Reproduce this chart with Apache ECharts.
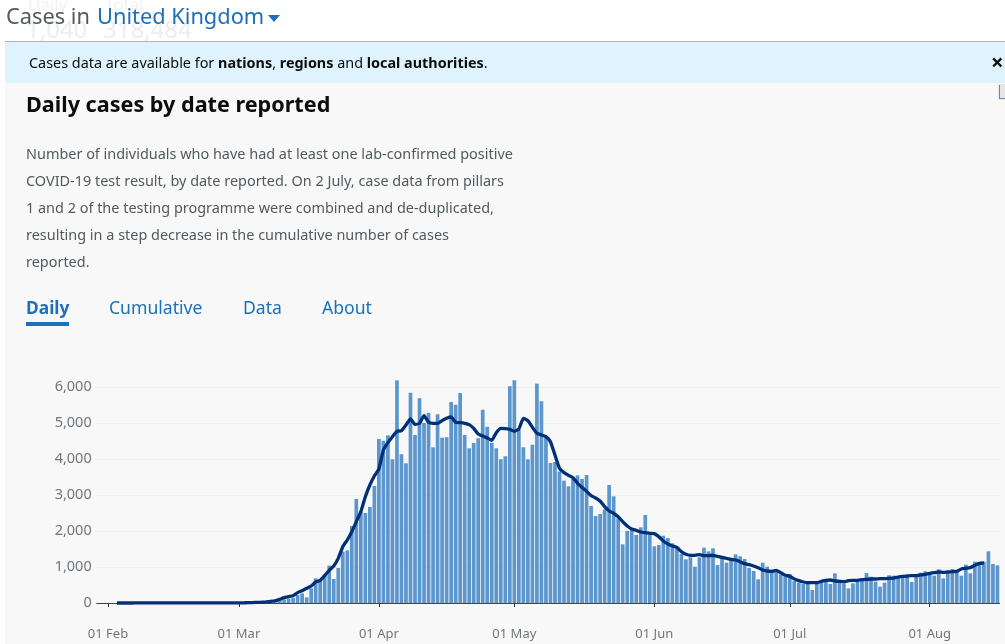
<!DOCTYPE html>
<html><head><meta charset="utf-8">
<style>html,body{margin:0;padding:0;background:#fff}#c{width:1005px;height:644px}</style>
<script src="https://cdn.jsdelivr.net/npm/echarts@6/dist/echarts.min.js"></script>
</head><body><div id="c"></div>
<script>
// Values. Index 0 = 01 Feb.
const leadingDays = ['30 Jan','31 Jan'];
const tickLabels = ['01 Feb','01 Mar','01 Apr','01 May','01 Jun','01 Jul','01 Aug'];
const monthNames = ['Feb','Mar','Apr','May','Jun','Jul','Aug'];
const monthLengths = [29,31,30,31,30,31,16];
const dailyCases = [
 0,0,0,0,1,0,1,0,1,0,1,0,0,0,0,0,0,0,0,0,0,0,0,0,1,2,3,4,3,
 12,5,11,30,30,45,48,60,50,83,100,120,139,222,268,157,407,685,640,760,1037,667,972,1427,1463,2139,2889,2546,2500,2667,3250,
 4556,4510,4658,3991,6185,4130,3880,5843,4667,5686,5000,5278,4324,5241,4593,4602,5584,5510,5834,4667,4297,4445,4574,5371,4899,4454,4297,3991,4074,6019,
 6185,4806,4324,3991,4398,6093,5602,4620,3889,3917,3650,3398,3241,3463,3546,3444,3555,2694,2417,2472,2602,3278,2963,2352,1630,2000,2028,1889,2102,2445,1889,
 1574,1611,1870,1806,1658,1546,1361,1213,1269,1009,1269,1537,1435,1519,1056,1250,1120,1213,1352,1296,1222,972,889,657,1120,1009,898,917,796,731,
 800,611,565,528,528,361,528,565,593,528,824,620,546,407,546,593,667,833,731,593,454,565,769,759,685,694,731,583,722,843,880,
 824,759,935,685,898,945,889,759,1065,824,1148,1056,1148,1435,1083,1046
];
const rollingAverage = [
 null,null,0,0,0,0,1,1,1,1,1,1,1,1,1,1,1,1,1,1,1,1,1,1,1,1,2,2,2,
 4,6,8,12,18,22,30,42,62,102,148,176,204,287,343,407,472,583,630,760,907,1028,1241,1565,1750,1982,2260,2537,2954,3278,3528,
 3722,4250,4454,4620,4769,4787,4945,5111,4963,4991,5204,5019,4991,4991,5065,5130,5167,5019,5010,4991,4954,4852,4695,4639,4584,4519,4732,4852,4843,4824,
 4769,4834,5130,5065,4880,4713,4667,4620,4482,4111,3741,3621,3546,3482,3324,3210,3100,2982,2917,2834,2676,2556,2491,2398,2259,2139,2056,2019,1972,1954,1935,
 1926,1843,1722,1639,1583,1546,1426,1352,1324,1324,1343,1315,1315,1324,1296,1269,1241,1213,1194,1148,1093,1065,1028,982,917,889,880,907,843,769,
 745,670,620,583,565,565,565,602,630,639,611,602,593,620,630,630,648,657,667,667,676,676,685,694,722,741,750,759,759,778,796,
 824,843,861,852,861,870,880,945,963,982,1046,1102,1111,null,null,null
];

const categories = leadingDays.slice();
monthNames.forEach((m,k)=>{ for(let d=1;d<=monthLengths[k];d++) categories.push((d<10?'0':'')+d+' '+m); });
const pad = v => leadingDays.map(()=>null).concat(v);
const isTick = (i,v) => tickLabels.includes(v);

const FONT = '"Noto Sans"';
const grey = '#505a5f', blue = '#1d70b8';
const txt = (text,x,y,size,fill,weight) => ({type:'text',silent:true,x,y,style:{text,fontFamily:FONT,fontSize:size,fontWeight:weight||'normal',fill,verticalAlign:'middle',align:'left'}});
const rect = (x,y,w,h,fill) => ({type:'rect',silent:true,shape:{x,y,width:w,height:h},style:{fill}});

const chart = echarts.init(document.getElementById('c'),null,{renderer:'canvas'});
chart.setOption({
 animation:false,
 backgroundColor:'#ffffff',
 graphic:{elements:[
  rect(5,42,1000,602,'#f8f8f8'),
  txt('Daily',28,5,17,'#f1f1f1'),txt('Total',105,5,17,'#f1f1f1'),
  txt('1,040',26,31,24,'#ededed'),txt('318,484',103,31,24,'#ededed'),
  txt('Cases in',6,18,21.8,grey),
  txt('United Kingdom',97,18,21.8,blue),
  {type:'polygon',silent:true,shape:{points:[[268,15],[280,15],[274,22]]},style:{fill:blue}},
  rect(5,41,1000,1,'#b1b4b6'),
  rect(5,42,1000,41,'#dff3ff'),
  {type:'text',silent:true,x:29,y:64,style:{text:'Cases data are available for {b|nations}, {b|regions} and {b|local authorities}.',fontFamily:FONT,fontSize:14.4,fill:'#0b0c0c',verticalAlign:'middle',align:'left',rich:{b:{fontFamily:FONT,fontSize:14.4,fontWeight:'bold',fill:'#0b0c0c'}}}},
  txt('×',991,64,22,'#0b0c0c','bold'),
  rect(998,84,7,16,'#e6e6e6'),rect(999,85,1,14,'#5694ca'),rect(999,98,6,1,'#5694ca'),
  txt('Daily cases by date reported',26,106,21.6,'#0b0c0c','bold'),
  txt('Number of individuals who have had at least one lab-confirmed positive',26,155,14.44,grey),
  txt('COVID-19 test result, by date reported. On 2 July, case data from pillars',26,182,14.44,grey),
  txt('1 and 2 of the testing programme were combined and de-duplicated,',26,209,14.44,grey),
  txt('resulting in a step decrease in the cumulative number of cases',26,236,14.44,grey),
  txt('reported.',26,263,14.44,grey),
  txt('Daily',26,309,17.4,blue,'bold'),
  rect(26,322,43,4,blue),
  txt('Cumulative',109,309,17.6,blue),
  txt('Data',243,309,17.6,blue),
  txt('About',322,309,17.6,blue)
 ]},
 grid:{left:96.7,width:903,top:387,height:216,containLabel:false},
 xAxis:[
  {type:'category',data:categories,position:'bottom',offset:13,boundaryGap:true,
   axisLine:{show:false},
   axisTick:{show:true,alignWithLabel:true,length:4,interval:isTick,lineStyle:{color:'#333',width:1}},
   axisLabel:{show:true,interval:isTick,margin:12,color:'#6f777b',fontFamily:FONT,fontSize:13,hideOverlap:false},
   splitLine:{show:false}},
  {type:'category',data:categories,position:'bottom',boundaryGap:true,
   axisLine:{show:true,lineStyle:{color:'#444',width:1}},axisTick:{show:false},axisLabel:{show:false},splitLine:{show:false}}
 ],
 yAxis:{type:'value',min:0,max:6000,interval:1000,
  axisLine:{show:false},axisTick:{show:false},
  axisLabel:{margin:5,padding:[2,0,0,0],color:'#6f777b',fontFamily:FONT,fontSize:14.5,formatter:v=>v.toLocaleString('en-GB')},
  splitLine:{show:true,lineStyle:{color:'#eeeeee',width:1}}},
 series:[
  {name:'Daily cases',type:'bar',data:pad(dailyCases),barWidth:3.7,clip:false,itemStyle:{color:'#5b96cd'},z:2},
  {name:'Rolling average',type:'line',data:pad(rollingAverage),showSymbol:false,smooth:0.15,clip:false,
   lineStyle:{color:'#003078',width:3.3},connectNulls:false,z:3}
 ]
});
</script></body></html>
